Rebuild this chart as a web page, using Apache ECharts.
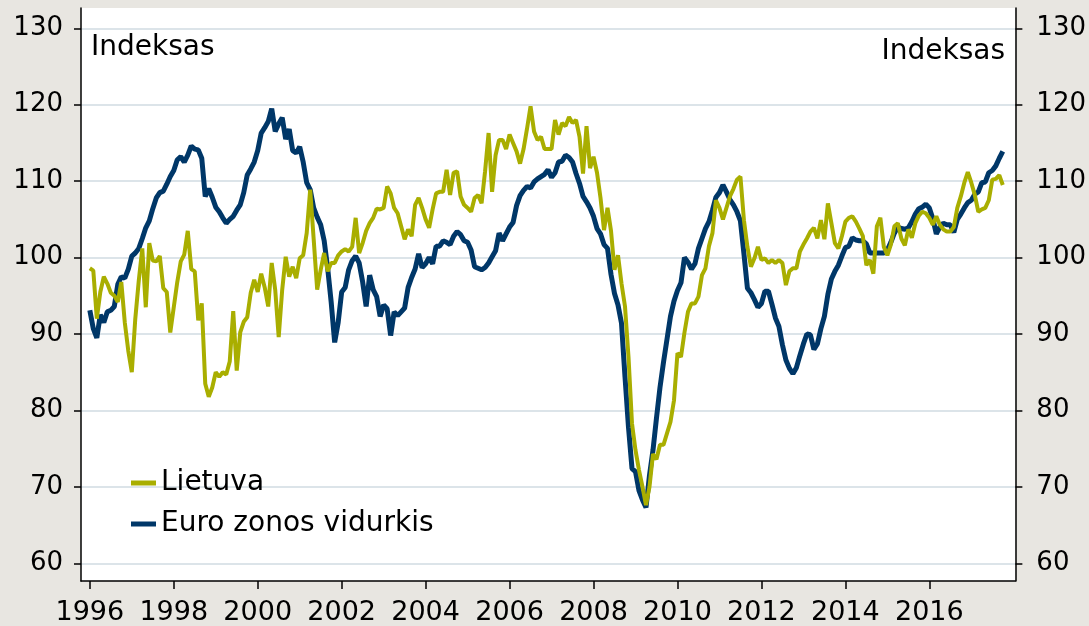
<!DOCTYPE html>
<html>
<head>
<meta charset="utf-8">
<script src="https://cdn.jsdelivr.net/npm/echarts@6/dist/echarts.min.js"></script>
<style>
  html, body { margin: 0; padding: 0; background: #e8e6e1; }
  #chart { width: 1089px; height: 626px; }
</style>
</head>
<body>
<div id="chart"></div>
<script>
// monthly data, starts Jan 1996
var startYear = 1996;
var yearTicks = [1996, 1998, 2000, 2002, 2004, 2006, 2008, 2010, 2012, 2014, 2016];
var valueTicks = [60, 70, 80, 90, 100, 110, 120, 130];
var seriesNames = ['Lietuva', 'Euro zonos vidurkis'];

var lietuva = [
  98.6, 98.3, 92, 95.5, 97.5, 96.6, 95.4, 95, 94.2, 96.8, 91.5, 87.8,
  85, 92, 97, 101.2, 93.5, 101.9, 99.6, 99.5, 100.2, 96, 95.5, 90.2,
  93.5, 96.8, 99.5, 100.4, 103.5, 98.5, 98.2, 91.8, 94, 83.5, 81.8, 83,
  85, 84.4, 85, 84.7, 86.4, 93, 85.2, 90.2, 91.6, 92.2, 95.4, 97.1,
  95.5, 97.9, 96.1, 93.6, 99.3, 95.8, 89.6, 95.8, 100.1, 97.5, 98.8, 97.3,
  99.9, 100.3, 103.2, 108.9, 102.4, 95.8, 98.4, 100.6, 98.2, 99.3, 99.3, 100.3,
  100.8, 101.1, 100.8, 101.4, 105.2, 100.6, 101.9, 103.5, 104.5, 105.2, 106.4, 106.3,
  106.5, 109.3, 108.4, 106.5, 105.8, 104.1, 102.4, 103.7, 102.8, 106.9, 107.8, 106.5,
  105, 103.9, 106.3, 108.4, 108.6, 108.6, 111.5, 108.2, 111.1, 111.3, 108, 106.9,
  106.5, 106, 107.8, 108.2, 107.1, 111.3, 116.3, 108.6, 113.4, 115.4, 115.4, 114.2,
  116.1, 115, 113.9, 112.3, 114.2, 116.9, 119.8, 116.5, 115.4, 115.8, 114.2, 114.2,
  114.2, 118, 116.1, 117.6, 117.2, 118.4, 117.6, 118, 115.8, 111, 117.2, 111.7,
  113.2, 111.1, 107.8, 103.6, 106.5, 103.5, 98.4, 100.3, 96.6, 93.6, 87, 78.3,
  74.8, 72.2, 70, 67.6, 70, 74.3, 73.6, 75.5, 75.5, 77, 78.5, 81.3,
  87.5, 87, 90.2, 92.9, 94, 94, 94.9, 97.7, 98.6, 101.5, 103.2, 107.5,
  106.5, 105, 106.5, 108, 109, 110.2, 110.6, 104.9, 101.4, 98.8, 99.9, 101.4,
  99.7, 99.9, 99.3, 99.7, 99.3, 99.7, 99.3, 96.4, 98.2, 98.6, 98.6, 100.8,
  101.7, 102.5, 103.4, 103.9, 102.5, 104.9, 102.4, 107.1, 104.5, 101.9, 101.2, 102.8,
  104.7, 105.2, 105.4, 104.7, 103.8, 102.8, 99, 99.7, 97.9, 104.1, 105.2, 101.4,
  100.3, 101.7, 104.1, 104.5, 102.5, 101.6, 103.7, 102.6, 104.5, 105.5, 106, 105.8,
  105.2, 104.3, 105.4, 104.3, 103.7, 103.4, 103.4, 104, 106.5, 108, 109.8, 111.2,
  109.8, 108.2, 106, 106.3, 106.5, 107.5, 110.2, 110.3, 110.8, 109.5
];

var euroZona = [
  93.1, 90.7, 89.5, 92.5, 91.5, 92.9, 93.1, 93.6, 96.5, 97.5, 97.3, 98.5,
  100.2, 100.6, 101.2, 102.5, 103.9, 104.8, 106.4, 107.8, 108.5, 108.7, 109.6, 110.6,
  111.4, 112.8, 113.2, 112.5, 113.4, 114.6, 114.2, 114.1, 113, 108, 109, 107.9,
  106.6, 106, 105.2, 104.5, 105, 105.4, 106.2, 106.9, 108.5, 110.8, 111.6, 112.5,
  114, 116.3, 117, 117.8, 119.5, 116.5, 117.5, 118.3, 115.5, 116.8, 114, 113.7,
  114.5, 112.5, 109.8, 108.9, 106.5, 105.3, 104.3, 102.2, 98.6, 94.2, 88.9, 91.5,
  95.5, 96.1, 98.4, 99.6, 100.2, 99.3, 96.8, 93.6, 97.7, 95.8, 94.9, 92.3,
  93.8, 93.3, 89.8, 92.9, 92.4, 92.9, 93.4, 96.1, 97.4, 98.5, 100.5, 98.7,
  99.2, 100, 99.2, 101.5, 101.5, 102.2, 102, 101.7, 102.8, 103.4, 103, 102.2,
  102, 101, 98.8, 98.6, 98.4, 98.7, 99.3, 100.1, 100.9, 103.2, 102.2, 103.1,
  104, 104.6, 106.8, 108.1, 108.8, 109.3, 109.1, 109.9, 110.3, 110.6, 110.9, 111.5,
  110.5, 111.1, 112.5, 112.6, 113.4, 113.1, 112.5, 111, 109.7, 108, 107.3, 106.5,
  105.4, 103.8, 103.1, 101.7, 101.2, 97.8, 95.3, 93.8, 91.4, 84.4, 77.8, 72.4,
  72, 69.5, 68.3, 67.3, 71.5, 74.8, 79, 83, 86.3, 89.3, 92.3, 94.3,
  95.7, 96.7, 100, 99.4, 98.5, 99.2, 101.2, 102.5, 103.8, 104.7, 106.2, 107.9,
  108.5, 109.5, 108.6, 107.6, 106.9, 106, 104.8, 100.5, 96, 95.4, 94.5, 93.5,
  94, 95.6, 95.6, 93.9, 92.1, 91, 88.6, 86.6, 85.5, 84.8, 85.6, 87.2,
  88.7, 90, 89.9, 88, 88.7, 90.7, 92.3, 95.2, 97.2, 98.2, 99, 100.2,
  101.3, 101.5, 102.6, 102.3, 102.2, 102.2, 101.8, 100.6, 100.6, 100.6, 100.6, 100.6,
  101, 102, 103.2, 104, 103.8, 103.7, 103.9, 104.7, 105.7, 106.4, 106.6, 107,
  106.5, 105.1, 103.1, 104, 104.5, 104.3, 104.3, 103.3, 105, 105.7, 106.5, 107.2,
  107.5, 108.3, 108.6, 109.8, 109.9, 111.1, 111.4, 112, 113, 113.9
];

var fontFamily = 'DejaVu Sans, Verdana, sans-serif';
var fontSize = 28;

// month index -> fractional year
function toPoints(values) {
  return values.map(function (v, i) { return [startYear + i / 12, v]; });
}

var yAxisBase = {
  type: 'value',
  min: 57.68,
  max: 132.66,
  axisLine: { show: true, lineStyle: { color: '#000', width: 1.5 } },
  axisTick: { show: true, customValues: valueTicks, length: 7, lineStyle: { color: '#000', width: 1.5 } },
  axisLabel: { customValues: valueTicks, color: '#000', fontSize: 26, fontFamily: fontFamily }
};

var chart = echarts.init(document.getElementById('chart'));
chart.setOption({
  animation: false,
  backgroundColor: '#e8e6e1',
  grid: {
    left: 81, right: 73, top: 8, bottom: 44,
    show: true, backgroundColor: '#ffffff', borderWidth: 0
  },
  legend: {
    data: seriesNames,
    orient: 'vertical',
    left: 126,
    top: 463,
    icon: 'rect',
    itemWidth: 25,
    itemHeight: 5,
    itemGap: 11,
    textStyle: { color: '#000', fontSize: fontSize, fontFamily: fontFamily, lineHeight: 30 }
  },
  xAxis: {
    type: 'value',
    min: 1995.79,
    max: 2018.05,
    axisLine: { show: true, lineStyle: { color: '#000', width: 1.5 } },
    axisTick: { show: true, customValues: yearTicks, length: 8, lineStyle: { color: '#000', width: 1.5 } },
    axisLabel: {
      customValues: yearTicks,
      color: '#000', fontSize: 27, fontFamily: fontFamily, margin: 18,
      formatter: function (v) { return String(Math.round(v)); }
    },
    splitLine: { show: false }
  },
  yAxis: [
    Object.assign({}, yAxisBase, {
      position: 'left',
      splitLine: { show: true, lineStyle: { color: '#d0dbe2', width: 1.5 } },
      axisLabel: Object.assign({}, yAxisBase.axisLabel, { margin: 18 })
    }),
    Object.assign({}, yAxisBase, {
      position: 'right',
      splitLine: { show: false },
      axisLabel: Object.assign({}, yAxisBase.axisLabel, { margin: 21 })
    })
  ],
  graphic: [
    {
      type: 'text', left: 91, top: 34,
      style: { text: 'Indeksas', fill: '#000', fontSize: fontSize, fontFamily: fontFamily }
    },
    {
      type: 'text', right: 84, top: 38,
      style: { text: 'Indeksas', fill: '#000', fontSize: fontSize, fontFamily: fontFamily }
    }
  ],
  series: [
    {
      name: 'Euro zonos vidurkis',
      type: 'line',
      data: toPoints(euroZona),
      showSymbol: false,
      color: '#003768',
      lineStyle: { width: 5, color: '#003768' }
    },
    {
      name: 'Lietuva',
      type: 'line',
      data: toPoints(lietuva),
      showSymbol: false,
      color: '#a9ae00',
      lineStyle: { width: 4, color: '#a9ae00' }
    }
  ]
});
</script>
</body>
</html>
